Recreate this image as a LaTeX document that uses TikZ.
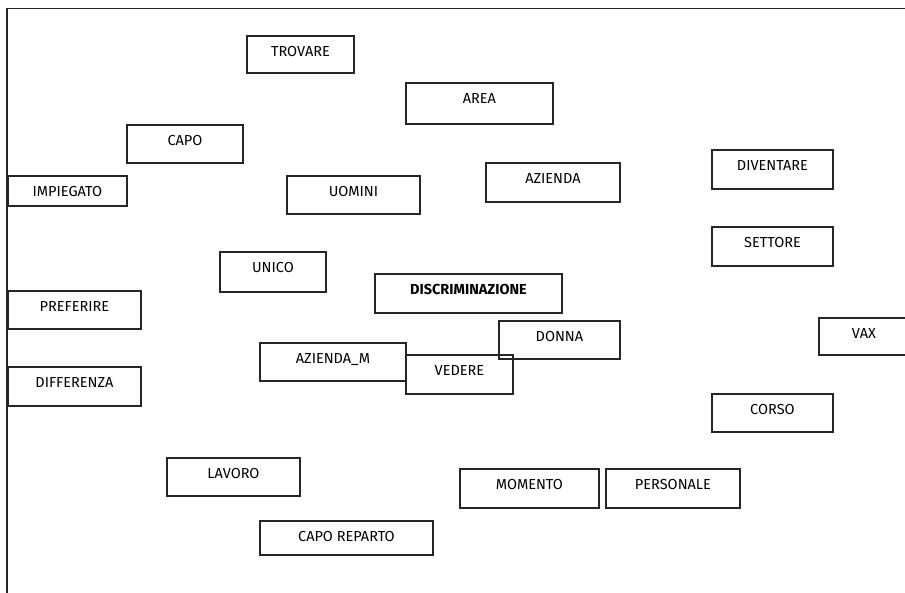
\documentclass[tikz,border=0pt]{standalone}
\usepackage{fontspec}
\setmainfont{Fira Sans}
\begin{document}
\begin{tikzpicture}[x=1pt,y=-1pt,
  word/.style={draw=black!85, line width=1.9pt, inner sep=0pt, anchor=north west,
    font=\fontsize{14.5}{16}\selectfont, text height=21pt},
  frameline/.style={draw=black!85, line width=1.9pt}]
\useasboundingbox (0,0) rectangle (905,593);
% outer frame: top and left edges only
\coordinate (fr) at (907,8.5);
\coordinate (fc) at (7,8.5);
\coordinate (fb) at (7,595);
\draw[frameline] (fr) -- (fc) -- (fb);
% word boxes: top-left corner, width, depth below the baseline, label
\newcommand{\wordbox}[6]{%
  \node[word, minimum width=#4pt, text depth=#5pt] (#1) at (#2,#3) {#6};}
\wordbox{trovare}{246}{35}{107}{16}{TROVARE}
\wordbox{area}{405}{82}{147}{20}{AREA}
\wordbox{capo}{126}{124}{116}{17}{CAPO}
\wordbox{impiegato}{7}{175}{119}{9}{IMPIEGATO}
\wordbox{uomini}{286}{175}{133}{17}{UOMINI}
\wordbox{azienda}{485}{162}{134}{18}{AZIENDA}
\wordbox{diventare}{711}{149}{121}{18}{DIVENTARE}
\wordbox{settore}{711}{226}{121}{18}{SETTORE}
\wordbox{unico}{219}{251}{106}{19}{UNICO}
\wordbox{discr}{374}{273}{187}{18}{\bfseries DISCRIMINAZIONE}
\wordbox{preferire}{7}{290}{133}{17}{PREFERIRE}
\wordbox{donna}{498}{320}{121}{17}{DONNA}
\wordbox{vax}{818}{317}{90}{16}{VAX}
\wordbox{aziendam}{259}{342}{146}{17}{AZIENDA\_M}
\wordbox{vedere}{405}{354}{107}{18}{VEDERE}
\wordbox{differenza}{7}{366}{133}{18}{DIFFERENZA}
\wordbox{corso}{711}{393}{121}{17}{CORSO}
\wordbox{lavoro}{166}{457}{133}{17}{LAVORO}
\wordbox{momento}{459}{468}{139}{18}{MOMENTO}
\wordbox{personale}{605}{468}{134}{18}{PERSONALE}
\wordbox{caporeparto}{259}{520}{173}{13}{CAPO REPARTO}
\end{tikzpicture}
\end{document}
